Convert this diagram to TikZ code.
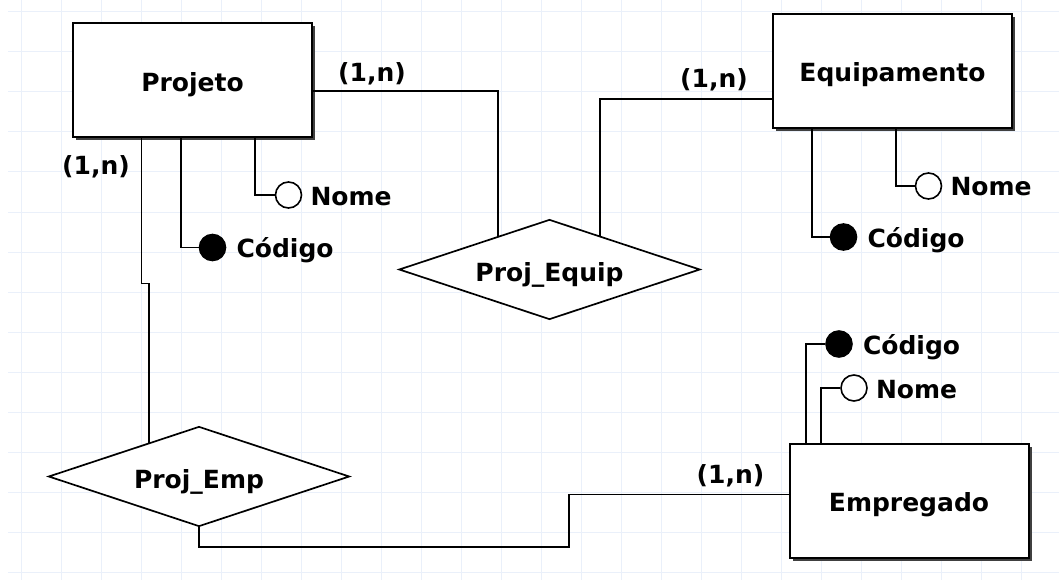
\documentclass[tikz,border=0pt]{standalone}
\usepackage{fontspec}
\setmainfont{DejaVu Sans}
\usetikzlibrary{shapes.geometric,shadows}

\definecolor{gridblue}{RGB}{234,240,250}

\tikzset{
    entity/.style={draw, line width=2pt, fill=white, minimum width=239pt, minimum height=114pt,
        text height=21.5pt, text depth=0pt,
        drop shadow={shadow xshift=3pt, shadow yshift=-3pt, fill=black!75, opacity=1}},
    relation/.style={draw, diamond, aspect=3, line width=1.7pt, fill=white, inner sep=0pt,
        minimum width=301pt, minimum height=100pt, text height=23pt, text depth=0pt},
    attr/.style={draw, circle, line width=1.6pt, fill=white, minimum size=26pt, inner sep=0pt},
    key/.style={attr, fill=black},
    attrname/.style={anchor=base west, inner sep=0pt},
    card/.style={inner sep=0pt},
    link/.style={line width=1.8pt}
}

\begin{document}
\begin{tikzpicture}[x=1pt, y=-1pt, font=\fontsize{25}{30}\selectfont\bfseries]

\useasboundingbox (0,0) rectangle (1059,580);

% Background grid
\fill[white] (0,0) rectangle (1059,580);
\draw[gridblue, line width=1pt, step=40pt, shift={(21,12)}] (-13,568) grid (1038,-12);

% Entities
\node[entity] (projeto) at (192.5,80.5) {Projeto};
\node[entity] (equip) at (892.5,71) {Equipamento};
\node[entity] (empreg) at (909,501) {Empregado};

% Relationships
\node[relation] (pequip) at (549.5,269.5) {Proj\_Equip};
\node[relation] (pemp) at (199,476.5) {Proj\_Emp};

% Attributes (filled = key)
\node[attr] (pnome) at (288.5,195) {};
\node[key] (pcod) at (212.5,247.5) {};
\node[attr] (enome) at (928.5,186) {};
\node[key] (ecod) at (843.5,237) {};
\node[key] (mcod) at (839,344) {};
\node[attr] (mnome) at (854,388) {};

\node[attrname] (pnomet) at ([xshift=8pt,yshift=-10pt]pnome.east) {Nome};
\node[attrname] (pcodt) at ([xshift=10pt,yshift=-10pt]pcod.east) {Código};
\node[attrname] (enomet) at ([xshift=8pt,yshift=-10pt]enome.east) {Nome};
\node[attrname] (ecodt) at ([xshift=10pt,yshift=-10pt]ecod.east) {Código};
\node[attrname] (mcodt) at ([xshift=10pt,yshift=-10pt]mcod.east) {Código};
\node[attrname] (mnomet) at ([xshift=8pt,yshift=-10pt]mnome.east) {Nome};

% Cardinalities
\node[card] (cpequip) at (372,73.5) {(1,n)};
\node[card] (cepequip) at (714,80) {(1,n)};
\node[card] (cppemp) at (96,167) {(1,n)};
\node[card] (cmpemp) at (730.5,476) {(1,n)};

% Links entity - relationship
\draw[link] ([yshift=-10.5pt]projeto.east) -| (pequip.147);
\draw[link] ([yshift=-28pt]equip.west) -| (pequip.34);
\draw[link] ([xshift=-51pt]projeto.south) -- ++(0,145) -| (pemp.146);
\draw[link] (pemp.south) |- (569,547) |- ([yshift=6.5pt]empreg.west);

% Links entity - attribute
\draw[link] ([xshift=62.5pt]projeto.south) |- (pnome);
\draw[link] ([xshift=-11.5pt]projeto.south) |- (pcod);
\draw[link] ([xshift=3.5pt]equip.south) |- (enome);
\draw[link] ([xshift=-80.5pt]equip.south) |- (ecod);
\draw[link] ([xshift=-103pt]empreg.north) |- (mcod);
\draw[link] ([xshift=-88pt]empreg.north) |- (mnome);

\end{tikzpicture}
\end{document}
